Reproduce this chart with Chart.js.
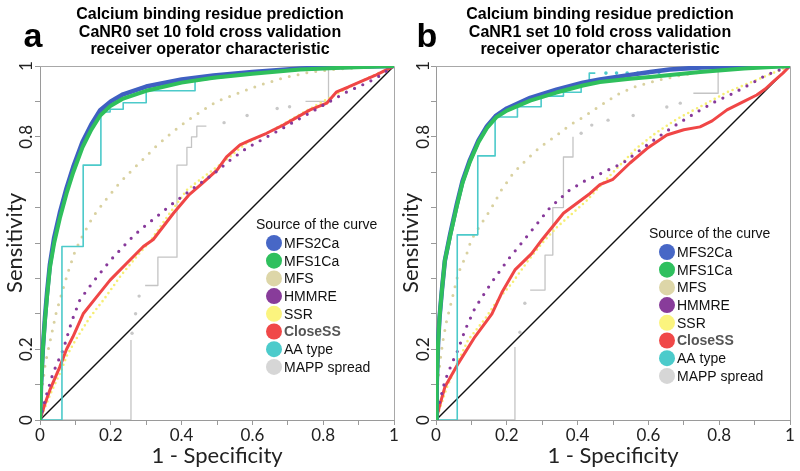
<!DOCTYPE html>
<html lang="en">
<head>
<meta charset="UTF-8">
<title>Calcium binding residue prediction - ROC</title>
<script src="https://cdn.jsdelivr.net/npm/chart.js"></script>
<style>
  html, body { margin:0; padding:0; background:#fff; }
  #wrap { position:relative; width:800px; height:471px; }
  canvas { position:absolute; top:0; }
  #panelA { left:0; }
  #panelB { left:400px; }
</style>
</head>
<body>
<div id="wrap">
  <canvas id="panelA" width="400" height="471"></canvas>
  <canvas id="panelB" width="400" height="471"></canvas>
</div>
<script>
// legend entries
const curveNames = ['MFS2Ca', 'MFS1Ca', 'MFS', 'HMMRE', 'SSR', 'CloseSS', 'AA type', 'MAPP spread'];
const legendColors = ['#4767c6', '#2fc05e', '#ddd6a8', '#883c9a', '#fbf47e', '#f04848', '#4ccbcb', '#d6d6d6'];

const titleA = ['Calcium binding residue prediction', 'CaNR0 set 10 fold cross validation', 'receiver operator characteristic'];
const titleB = ['Calcium binding residue prediction', 'CaNR1 set 10 fold cross validation', 'receiver operator characteristic'];

const diagonal = [[0, 0], [1, 1]];

// ---- panel a : CaNR0 ----  [1 - specificity, sensitivity]
const aMFS2Ca = [[0,0],[0.003,0.1],[0.008,0.2],[0.014,0.29],[0.02,0.36],[0.028,0.44],[0.04,0.515],[0.056,0.585],[0.075,0.655],[0.094,0.715],[0.12,0.785],[0.145,0.835],[0.17,0.875],[0.2,0.9],[0.235,0.92],[0.3,0.942],[0.4,0.962],[0.49,0.973],[0.6,0.983],[0.735,0.993],[0.85,0.997],[1,1]];
const aMFS1Ca = [[0,0],[0.003,0.1],[0.008,0.2],[0.014,0.28],[0.02,0.35],[0.028,0.43],[0.04,0.5],[0.056,0.57],[0.075,0.64],[0.094,0.7],[0.12,0.77],[0.145,0.82],[0.17,0.86],[0.2,0.888],[0.235,0.908],[0.3,0.93],[0.4,0.953],[0.49,0.967],[0.6,0.978],[0.735,0.99],[0.85,0.995],[1,1]];
const aMFS = [[0,0],[0.005,0.08],[0.015,0.16],[0.028,0.22],[0.045,0.3],[0.062,0.36],[0.08,0.42],[0.1,0.48],[0.12,0.52],[0.15,0.575],[0.188,0.625],[0.225,0.67],[0.264,0.71],[0.3,0.745],[0.33,0.775],[0.37,0.81],[0.415,0.845],[0.46,0.875],[0.5,0.9],[0.565,0.925],[0.62,0.946],[0.69,0.967],[0.763,0.983],[0.85,0.992],[0.93,0.997],[1,1]];
const aHMMRE = [[0,0],[0.015,0.06],[0.037,0.133],[0.066,0.2],[0.09,0.28],[0.113,0.34],[0.15,0.39],[0.198,0.45],[0.254,0.51],[0.283,0.537],[0.33,0.575],[0.377,0.613],[0.433,0.655],[0.49,0.695],[0.537,0.734],[0.584,0.768],[0.687,0.825],[0.777,0.876],[0.867,0.927],[0.923,0.952],[0.95,0.966],[1,1]];
const aSSR = [[0,0],[0.03,0.075],[0.06,0.14],[0.075,0.18],[0.1,0.225],[0.141,0.29],[0.18,0.34],[0.23,0.41],[0.28,0.47],[0.31,0.503],[0.36,0.575],[0.415,0.65],[0.46,0.685],[0.52,0.73],[0.58,0.78],[0.65,0.815],[0.72,0.855],[0.8,0.9],[0.867,0.937],[0.93,0.968],[1,1]];
const aCloseSS = [[0,0],[0.012,0.04],[0.028,0.085],[0.056,0.15],[0.075,0.2],[0.093,0.235],[0.122,0.3],[0.16,0.348],[0.198,0.395],[0.245,0.443],[0.292,0.49],[0.32,0.51],[0.377,0.584],[0.42,0.635],[0.46,0.67],[0.5,0.706],[0.527,0.743],[0.565,0.777],[0.593,0.79],[0.64,0.81],[0.687,0.833],[0.763,0.876],[0.81,0.895],[0.838,0.927],[0.87,0.94],[0.904,0.955],[0.95,0.975],[1,1]];
const aAAtype = [[0,0],[0.062,0],[0.062,0.49],[0.122,0.49],[0.122,0.72],[0.172,0.72],[0.172,0.87],[0.198,0.87],[0.198,0.878],[0.235,0.878],[0.235,0.896],[0.3,0.896],[0.3,0.93],[0.438,0.93],[0.438,0.958],[0.6,0.978],[0.8,0.994],[1,1]];
const aAAdots = [[0.8,0.997],[0.83,0.997]];
const aMAPPsteps = [
  [[0,0],[0.257,0],[0.257,0.226]],
  [[0.297,0.38],[0.333,0.38],[0.333,0.46],[0.387,0.46],[0.387,0.72],[0.415,0.72],[0.415,0.77],[0.428,0.77],[0.428,0.8],[0.443,0.8],[0.443,0.83],[0.47,0.83]],
  [[0.75,0.9],[0.815,0.9],[0.815,0.99]]
];
const aMAPPdots = [[0.26,0.245],[0.27,0.3],[0.28,0.35],[0.52,0.84],[0.585,0.86],[0.67,0.88],[0.705,0.885]];

// ---- panel b : CaNR1 ----
const bMFS2Ca = [[0,0],[0.002,0.1],[0.006,0.22],[0.01,0.29],[0.017,0.37],[0.025,0.45],[0.04,0.525],[0.059,0.61],[0.075,0.675],[0.096,0.735],[0.12,0.79],[0.144,0.83],[0.17,0.86],[0.2,0.88],[0.266,0.91],[0.34,0.933],[0.415,0.953],[0.463,0.962],[0.548,0.975],[0.605,0.983],[0.66,0.99],[0.75,0.996],[0.87,0.999],[1,1]];
const bMFS1Ca = [[0,0],[0.002,0.1],[0.006,0.22],[0.01,0.29],[0.017,0.37],[0.025,0.45],[0.04,0.52],[0.059,0.605],[0.075,0.67],[0.096,0.73],[0.12,0.785],[0.144,0.825],[0.17,0.855],[0.2,0.874],[0.266,0.902],[0.34,0.925],[0.415,0.945],[0.463,0.955],[0.548,0.964],[0.605,0.969],[0.746,0.983],[0.87,0.993],[1,1]];
const bMFS = [[0,0],[0.005,0.1],[0.012,0.17],[0.02,0.226],[0.03,0.28],[0.04,0.32],[0.063,0.415],[0.087,0.47],[0.1,0.51],[0.125,0.55],[0.153,0.593],[0.185,0.65],[0.218,0.697],[0.255,0.735],[0.294,0.771],[0.335,0.8],[0.378,0.833],[0.415,0.855],[0.46,0.885],[0.51,0.918],[0.557,0.94],[0.62,0.958],[0.698,0.975],[0.8,0.99],[0.9,0.997],[1,1]];
const bHMMRE = [[0,0],[0.01,0.05],[0.025,0.11],[0.045,0.16],[0.063,0.2],[0.082,0.254],[0.11,0.316],[0.158,0.39],[0.205,0.455],[0.25,0.51],[0.29,0.56],[0.322,0.6],[0.378,0.65],[0.42,0.675],[0.463,0.695],[0.528,0.726],[0.58,0.765],[0.624,0.797],[0.68,0.835],[0.737,0.87],[0.79,0.9],[0.84,0.923],[0.89,0.95],[0.934,0.975],[1,1]];
const bSSR = [[0,0],[0.03,0.09],[0.06,0.16],[0.09,0.225],[0.138,0.285],[0.175,0.34],[0.215,0.387],[0.26,0.45],[0.3,0.5],[0.342,0.545],[0.426,0.62],[0.463,0.66],[0.51,0.71],[0.567,0.768],[0.62,0.81],[0.68,0.85],[0.765,0.895],[0.82,0.925],[0.88,0.95],[0.94,0.975],[1,1]];
const bCloseSS = [[0,0],[0.01,0.04],[0.025,0.093],[0.063,0.16],[0.11,0.235],[0.158,0.3],[0.186,0.36],[0.223,0.424],[0.27,0.47],[0.3,0.51],[0.36,0.584],[0.435,0.64],[0.463,0.665],[0.5,0.68],[0.548,0.726],[0.6,0.77],[0.652,0.805],[0.7,0.82],[0.746,0.828],[0.78,0.845],[0.822,0.876],[0.87,0.9],[0.906,0.918],[0.93,0.935],[0.952,0.955],[0.98,0.98],[1,1]];
const bAAtype = [[0,0],[0.06,0],[0.06,0.523],[0.118,0.523],[0.118,0.746],[0.167,0.746],[0.167,0.856],[0.23,0.856],[0.23,0.885],[0.297,0.885],[0.297,0.915],[0.36,0.915],[0.36,0.926],[0.41,0.926],[0.41,0.955],[0.433,0.955],[0.433,0.98],[0.45,0.98]];
const bAAdots = [[0.48,0.98],[0.51,0.98],[0.54,0.98],[0.57,0.98],[0.6,0.981],[0.63,0.982]];
const bMAPPsteps = [
  [[0,0],[0.223,0],[0.223,0.206]],
  [[0.266,0.367],[0.308,0.367],[0.308,0.466],[0.33,0.466],[0.33,0.6],[0.36,0.6],[0.36,0.743],[0.387,0.743],[0.387,0.8]],
  [[0.727,0.923],[0.797,0.923],[0.797,1]]
];
const bMAPPdots = [[0.237,0.248],[0.251,0.33],[0.41,0.81],[0.44,0.833],[0.486,0.847],[0.557,0.86],[0.652,0.884],[0.69,0.895]];

function xy(arr) { return arr.map(p => ({ x: p[0], y: p[1] })); }
function joinSteps(parts) {
  const out = [];
  parts.forEach((part, i) => {
    if (i > 0) out.push({ x: part[0][0], y: null });
    out.push(...xy(part));
  });
  return out;
}
function lineSet(label, data, color, width, dash) {
  return {
    label, data, showLine: true, borderColor: color, backgroundColor: color,
    borderWidth: width, borderDash: dash || [], borderCapStyle: dash ? 'round' : 'butt',
    borderJoinStyle: 'round', pointRadius: 0, spanGaps: false, tension: 0
  };
}
function dotSet(label, data, color, r) {
  return {
    label, data, showLine: false, pointRadius: r, pointBorderWidth: 0,
    pointBackgroundColor: color, backgroundColor: color, borderColor: color
  };
}

// titles, panel letter, legend and plot frame
const panelText = {
  id: 'panelText',
  beforeDatasetsDraw(chart) {
    const { ctx, chartArea: a } = chart;
    ctx.save();
    ctx.strokeStyle = '#a8a8a8';
    ctx.lineWidth = 1;
    ctx.beginPath();
    ctx.moveTo(a.left, a.top + 0.5);
    ctx.lineTo(a.right + 0.5, a.top + 0.5);
    ctx.lineTo(a.right + 0.5, a.bottom);
    ctx.stroke();
    ctx.restore();
  },
  afterDraw(chart, args, o) {
    const ctx = chart.ctx;
    ctx.save();
    ctx.fillStyle = '#000';
    ctx.textAlign = 'center';
    ctx.textBaseline = 'alphabetic';
    ctx.font = 'bold 34px "Liberation Sans", Arial, sans-serif';
    ctx.fillText(o.letter, o.letterX, 47);
    ctx.textBaseline = 'middle';
    ctx.font = 'bold 16px "Liberation Sans", Arial, sans-serif';
    o.title.forEach((t, i) => ctx.fillText(t, o.titleX, 15 + i * 17.5));

    ctx.textAlign = 'left';
    ctx.font = '14px "Liberation Sans", Arial, sans-serif';
    ctx.fillStyle = '#111';
    ctx.fillText('Source of the curve', o.legendX, o.legendY);
    curveNames.forEach((n, i) => {
      const y = o.legendY + 18 + i * 17.7;
      ctx.beginPath();
      ctx.arc(o.legendX + 18, y, 8, 0, Math.PI * 2);
      ctx.fillStyle = legendColors[i];
      ctx.fill();
      const bold = n === 'CloseSS';
      ctx.fillStyle = bold ? '#555' : '#111';
      ctx.font = (bold ? 'bold ' : '') + '14px "Liberation Sans", Arial, sans-serif';
      ctx.fillText(n, o.legendX + 28, y + 1);
    });
    ctx.restore();
  }
};

function axes(yWidth, titlePad, tickPad) {
  const grid = { display: true, drawOnChartArea: false, drawTicks: true, tickLength: 5, color: '#9a9a9a', tickColor: '#9a9a9a' };
  const border = { display: true, color: '#9a9a9a', width: 1 };
  const tickFont = { family: 'Lato', size: 17 };
  const titleFont = { family: 'Lato', size: 22 };
  return {
    x: {
      type: 'linear', position: 'bottom', min: 0, max: 1, grid, border,
      ticks: {
        stepSize: 0.1, autoSkip: false, minRotation: 0, maxRotation: 0, padding: 0, color: '#222', font: tickFont,
        callback: v => Math.round(v * 10) % 2 === 0 ? String(Math.round(v * 10) / 10) : ''
      },
      title: { display: true, text: '1 - Specificity', color: '#222', font: titleFont, padding: { top: 0, bottom: 2 } },
      afterFit: s => { s.height = 51; }
    },
    y: {
      type: 'linear', position: 'left', min: 0, max: 1, grid, border,
      ticks: {
        stepSize: 0.1, autoSkip: false, minRotation: 90, maxRotation: 90, crossAlign: 'center', padding: tickPad,
        color: '#222', font: tickFont,
        callback: v => [0, 2, 8, 10].includes(Math.round(v * 10)) ? String(Math.round(v * 10) / 10) : ''
      },
      title: { display: true, text: 'Sensitivity', color: '#222', font: titleFont, padding: { top: titlePad, bottom: 0 } },
      afterFit: s => { s.width = yWidth; }
    }
  };
}

function makePanel(id, d, p) {
  const datasets = [
    lineSet('MFS1Ca', xy(d.mfs1), '#2fbf5c', 4),
    lineSet('MFS2Ca', xy(d.mfs2), '#3f60c2', 4.5),
    dotSet('', xy(d.aaDots), '#4ccaca', 1.8),
    lineSet('AA type', xy(d.aa), '#4ccaca', 1.6),
    lineSet('MFS', xy(d.mfs), '#d9d1a0', 3, [0, 9]),
    lineSet('HMMRE', xy(d.hmm), '#87399a', 3.2, [0, 9]),
    lineSet('CloseSS', xy(d.close), '#f04646', 3),
    lineSet('SSR', xy(d.ssr), '#f6ee74', 2.6, [0, 5]),
    lineSet('MAPP spread', joinSteps(d.mappSteps), '#c4c4c4', 1.3),
    dotSet('', xy(d.mappDots), '#c8c8c8', 1.7),
    lineSet('', xy(diagonal), '#111', 1.4)
  ];
  new Chart(document.getElementById(id), {
    type: 'scatter',
    data: { datasets },
    options: {
      responsive: false,
      animation: false,
      layout: { padding: { top: 66, right: p.padRight, left: 0, bottom: 0 } },
      scales: axes(p.yWidth, p.titlePad, p.tickPad),
      plugins: {
        legend: { display: false },
        tooltip: { enabled: false },
        panelText: p.text
      }
    },
    plugins: [panelText]
  });
}

makePanel('panelA',
  { mfs2: aMFS2Ca, mfs1: aMFS1Ca, mfs: aMFS, hmm: aHMMRE, ssr: aSSR, close: aCloseSS, aa: aAAtype, aaDots: aAAdots, mappSteps: aMAPPsteps, mappDots: aMAPPdots },
  { padRight: 6, yWidth: 40, titlePad: 2, tickPad: -3.5,
    text: { letter: 'a', letterX: 33, title: titleA, titleX: 210, legendX: 256, legendY: 225 } });

makePanel('panelB',
  { mfs2: bMFS2Ca, mfs1: bMFS1Ca, mfs: bMFS, hmm: bHMMRE, ssr: bSSR, close: bCloseSS, aa: bAAtype, aaDots: bAAdots, mappSteps: bMAPPsteps, mappDots: bMAPPdots },
  { padRight: 10, yWidth: 36, titlePad: -2, tickPad: -4.5,
    text: { letter: 'b', letterX: 27, title: titleB, titleX: 200, legendX: 249, legendY: 234 } });
</script>
</body>
</html>
